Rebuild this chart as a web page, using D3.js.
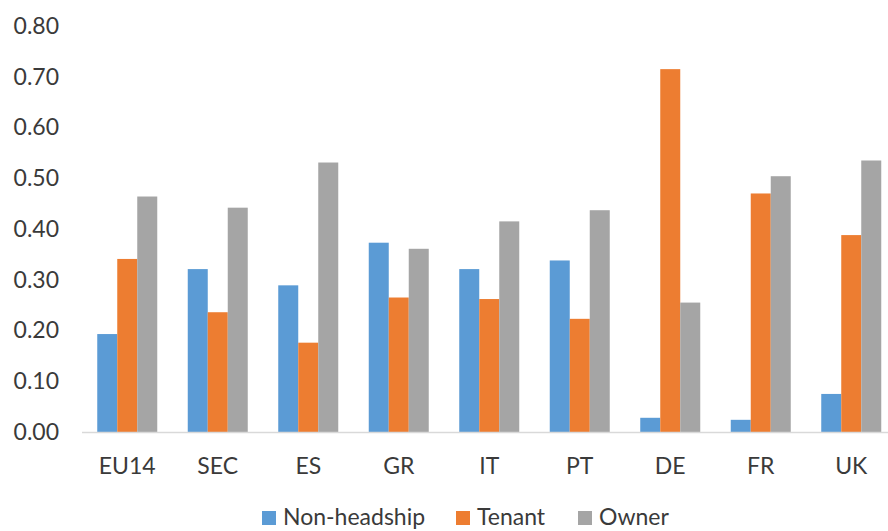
<!DOCTYPE html>
<html>
<head>
<meta charset="utf-8">
<script src="https://cdn.jsdelivr.net/npm/d3@7"></script>
<style>
  html, body { margin: 0; padding: 0; background: #fff; }
  svg { display: block; font-family: Lato, "Open Sans", sans-serif; }
</style>
</head>
<body>
<svg id="chart" width="888" height="531"></svg>
<script>
// Categories and series
const categories = ["EU14", "SEC", "ES", "GR", "IT", "PT", "DE", "FR", "UK"];
const seriesNames = ["Non-headship", "Tenant", "Owner"];
const nonHeadship = [0.193, 0.321, 0.289, 0.373, 0.321, 0.338, 0.028, 0.024, 0.075];
const tenant      = [0.341, 0.236, 0.176, 0.265, 0.262, 0.223, 0.715, 0.470, 0.388];
const owner       = [0.464, 0.442, 0.531, 0.361, 0.415, 0.437, 0.255, 0.504, 0.535];
const yTicks = [0, 0.1, 0.2, 0.3, 0.4, 0.5, 0.6, 0.7, 0.8];

const colors = ["#5b9bd5", "#ed7d31", "#a5a5a5"];
const values = [nonHeadship, tenant, owner];

const svg = d3.select("#chart");
const plot = { left: 82, right: 896.5, top: 26, bottom: 432 };

const x0 = d3.scaleBand()
  .domain(categories)
  .range([plot.left, plot.right])
  .paddingInner(0.337)
  .paddingOuter(0.1685);

const x1 = d3.scaleBand()
  .domain(seriesNames)
  .range([0, x0.bandwidth()])
  .padding(0);

const y = d3.scaleLinear()
  .domain([0, 0.8])
  .range([plot.bottom, plot.top]);

// Bars
const groups = svg.append("g")
  .selectAll("g")
  .data(categories)
  .join("g")
  .attr("transform", d => `translate(${x0(d)},0)`);

groups.selectAll("rect")
  .data((c, i) => seriesNames.map((s, k) => ({ s, k, v: values[k][i] })))
  .join("rect")
  .attr("x", d => x1(d.s))
  .attr("width", x1.bandwidth())
  .attr("y", d => y(d.v))
  .attr("height", d => y(0) - y(d.v))
  .attr("fill", d => colors[d.k]);

// Category axis baseline
svg.append("line")
  .attr("x1", plot.left)
  .attr("x2", 888)
  .attr("y1", y(0) + 0.5)
  .attr("y2", y(0) + 0.5)
  .attr("stroke", "#d9d9d9")
  .attr("stroke-width", 1.5);

// Y axis labels
const yAxis = svg.append("g")
  .attr("transform", `translate(${plot.left},0)`)
  .call(d3.axisLeft(y).tickValues(yTicks).tickFormat(d3.format(".2f")).tickSize(0).tickPadding(23));
yAxis.select(".domain").remove();
yAxis.selectAll("text")
  .attr("fill", "#3a3a3a")
  .style("font-size", "23px")
  .style("font-family", "Lato, sans-serif");

// X axis labels
const xAxis = svg.append("g")
  .attr("transform", `translate(0,${plot.bottom})`)
  .call(d3.axisBottom(x0).tickSize(0).tickPadding(26));
xAxis.select(".domain").remove();
xAxis.selectAll("text")
  .attr("fill", "#3a3a3a")
  .style("font-size", "23px")
  .style("font-family", "Lato, sans-serif");

// Legend
const legendItems = [
  { name: seriesNames[0], color: colors[0], x: 262 },
  { name: seriesNames[1], color: colors[1], x: 456 },
  { name: seriesNames[2], color: colors[2], x: 578 }
];
const legend = svg.append("g");
legendItems.forEach(it => {
  legend.append("rect")
    .attr("x", it.x).attr("y", 511)
    .attr("width", 14).attr("height", 14)
    .attr("fill", it.color);
  legend.append("text")
    .attr("x", it.x + 21).attr("y", 525)
    .attr("fill", "#3a3a3a")
    .style("font-size", "23px")
    .text(it.name);
});
</script>
</body>
</html>
